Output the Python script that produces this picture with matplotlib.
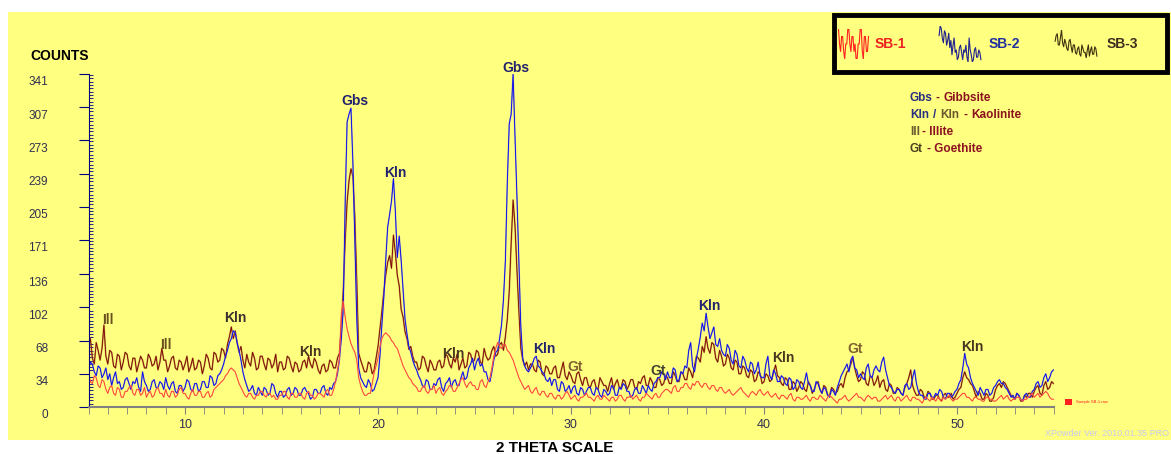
import numpy as np
import matplotlib
matplotlib.use('Agg')
import matplotlib.pyplot as plt
from matplotlib.patches import Rectangle
from matplotlib.ticker import MultipleLocator, AutoMinorLocator
from matplotlib.transforms import ScaledTranslation

plt.rcParams['font.family'] = ['Liberation Sans', 'DejaVu Sans']

# 2-theta grid, 0.1 deg steps, 5 .. 55
two_theta = np.round(np.arange(5.0, 55.001, 0.1), 1)

# SB-1 (red), one row per degree (5..54) + last point at 55
sb1 = [34, 26, 24, 32, 30, 22, 20, 28, 26, 18,
       14, 20, 22, 14, 12, 20, 18, 10, 10, 16,
       16, 20, 22, 14, 12, 18, 18, 12, 14, 20,
       10, 14, 16, 10, 12, 18, 20, 14, 14, 10,
       18, 12, 10, 16, 16, 10, 12, 18, 20, 14,
       14, 10, 8, 14, 18, 12, 12, 16, 16, 10,
       10, 14, 16, 10, 12, 18, 20, 22, 24, 26,
       28, 32, 34, 38, 40, 38, 36, 30, 24, 20,
       16, 12, 10, 14, 14, 10, 8, 12, 12, 16,
       16, 12, 10, 14, 14, 10, 12, 8, 8, 12,
       12, 16, 16, 10, 8, 14, 14, 10, 10, 14,
       14, 10, 8, 14, 16, 12, 12, 8, 10, 14,
       14, 12, 10, 16, 18, 12, 12, 18, 26, 38,
       50, 96, 108, 92, 80, 72, 65, 60, 56, 48,
       30, 22, 16, 12, 12, 14, 14, 24, 35, 42,
       50, 62, 70, 74, 76, 74, 72, 68, 66, 62,
       60, 54, 48, 42, 38, 34, 30, 28, 24, 22,
       20, 16, 16, 20, 22, 16, 14, 18, 18, 22,
       14, 18, 20, 14, 12, 16, 18, 22, 22, 16,
       16, 20, 24, 28, 30, 24, 20, 24, 26, 22,
       22, 18, 18, 26, 28, 22, 20, 26, 30, 40,
       52, 60, 66, 62, 60, 64, 64, 58, 56, 52,
       48, 42, 36, 30, 26, 22, 18, 20, 22, 16,
       14, 18, 20, 14, 12, 16, 16, 12, 10, 14,
       14, 10, 8, 12, 12, 8, 10, 14, 16, 12,
       8, 10, 12, 8, 6, 10, 10, 12, 14, 10,
       10, 8, 6, 10, 12, 8, 8, 12, 10, 8,
       6, 10, 10, 6, 8, 12, 12, 8, 6, 10,
       10, 12, 8, 10, 12, 8, 6, 10, 10, 14,
       12, 10, 8, 12, 14, 10, 10, 14, 16, 18,
       18, 16, 14, 20, 22, 16, 16, 20, 20, 24,
       24, 20, 18, 24, 22, 26, 26, 22, 20, 24,
       24, 20, 18, 22, 22, 18, 16, 20, 20, 16,
       14, 16, 18, 14, 12, 14, 16, 18, 20, 16,
       14, 12, 10, 14, 16, 14, 12, 16, 18, 14,
       12, 14, 16, 12, 10, 12, 14, 10, 8, 12,
       12, 10, 8, 12, 14, 8, 6, 10, 10, 8,
       8, 10, 12, 8, 6, 10, 10, 8, 8, 12,
       10, 8, 6, 10, 12, 10, 8, 6, 4, 8,
       8, 10, 12, 8, 6, 8, 10, 12, 14, 10,
       10, 8, 6, 10, 12, 10, 8, 10, 10, 6,
       6, 8, 10, 12, 8, 10, 12, 8, 6, 10,
       10, 6, 8, 10, 12, 8, 6, 10, 10, 8,
       8, 6, 4, 8, 10, 8, 6, 10, 8, 6,
       10, 8, 6, 10, 8, 10, 12, 8, 6, 8,
       8, 10, 12, 14, 14, 10, 10, 8, 6, 10,
       10, 8, 8, 6, 6, 10, 10, 8, 8, 6,
       6, 8, 10, 12, 8, 10, 12, 8, 6, 8,
       8, 10, 10, 8, 6, 8, 8, 10, 12, 14,
       10, 12, 14, 10, 12, 14, 16, 14, 10, 8,
       8]

# SB-2 (blue)
sb2 = [38, 46, 44, 36, 32, 42, 40, 30, 34, 40,
       28, 34, 22, 30, 36, 24, 26, 18, 20, 28,
       30, 24, 18, 26, 24, 30, 20, 16, 36, 26,
       22, 16, 18, 26, 28, 20, 20, 26, 24, 18,
       30, 22, 18, 24, 26, 16, 14, 22, 22, 16,
       20, 28, 26, 18, 16, 24, 24, 16, 18, 26,
       26, 20, 20, 32, 30, 22, 24, 32, 34, 38,
       44, 52, 58, 66, 70, 78, 76, 66, 58, 48,
       36, 28, 22, 16, 18, 22, 14, 12, 20, 16,
       12, 20, 18, 12, 14, 24, 22, 14, 10, 16,
       16, 10, 12, 18, 20, 12, 14, 20, 18, 12,
       12, 18, 20, 16, 14, 8, 10, 18, 18, 14,
       14, 20, 22, 14, 12, 20, 18, 24, 26, 34,
       48, 70, 100, 210, 292, 300, 306, 250, 170, 90,
       40, 30, 26, 22, 20, 28, 24, 16, 18, 24,
       30, 52, 84, 112, 150, 184, 197, 211, 234, 200,
       153, 175, 150, 120, 90, 75, 62, 56, 48, 42,
       38, 32, 28, 22, 20, 28, 26, 18, 18, 24,
       22, 28, 30, 20, 16, 24, 26, 30, 20, 26,
       28, 22, 22, 30, 36, 28, 30, 40, 44, 50,
       38, 46, 50, 42, 44, 36, 36, 28, 26, 36,
       48, 56, 58, 70, 84, 110, 150, 230, 290, 300,
       341, 276, 215, 150, 82, 50, 42, 38, 36, 40,
       44, 50, 52, 42, 40, 36, 34, 28, 26, 30,
       22, 28, 28, 18, 16, 26, 24, 16, 18, 22,
       14, 20, 22, 14, 12, 20, 18, 12, 16, 20,
       20, 14, 12, 20, 18, 12, 10, 18, 16, 12,
       14, 22, 20, 12, 12, 20, 18, 24, 22, 16,
       16, 10, 12, 18, 20, 14, 14, 22, 18, 14,
       22, 18, 16, 24, 26, 30, 30, 36, 34, 28,
       36, 30, 30, 40, 38, 26, 28, 36, 34, 42,
       40, 58, 66, 42, 36, 50, 60, 72, 86, 78,
       96, 82, 70, 76, 82, 64, 62, 70, 58, 54,
       52, 64, 60, 48, 44, 58, 54, 42, 40, 52,
       48, 40, 36, 46, 44, 34, 38, 46, 32, 30,
       30, 44, 52, 32, 28, 38, 34, 26, 26, 32,
       30, 24, 22, 30, 28, 18, 20, 28, 26, 20,
       18, 26, 35, 24, 22, 16, 16, 26, 24, 18,
       14, 20, 18, 12, 10, 18, 16, 12, 20, 26,
       32, 36, 40, 44, 36, 48, 52, 40, 38, 30,
       34, 30, 28, 40, 44, 32, 30, 38, 42, 38,
       36, 46, 51, 38, 30, 22, 20, 16, 14, 18,
       18, 14, 12, 22, 24, 18, 20, 30, 38, 24,
       16, 12, 12, 8, 8, 14, 14, 10, 10, 14,
       12, 18, 16, 10, 8, 14, 14, 10, 12, 16,
       18, 24, 28, 40, 55, 44, 40, 30, 24, 20,
       16, 12, 20, 16, 12, 18, 18, 12, 14, 20,
       22, 26, 28, 24, 24, 20, 18, 14, 10, 12,
       8, 14, 12, 8, 6, 12, 14, 10, 10, 16,
       18, 24, 26, 20, 22, 30, 34, 26, 30, 36,
       38]

# SB-3 (dark brown)
sb3 = [62, 70, 50, 44, 66, 58, 48, 60, 84, 52,
       44, 58, 56, 42, 40, 54, 52, 38, 46, 56,
       54, 42, 38, 50, 50, 36, 44, 52, 48, 40,
       40, 54, 50, 42, 44, 52, 38, 46, 60, 48,
       48, 36, 42, 50, 52, 40, 38, 48, 46, 38,
       44, 52, 36, 42, 50, 38, 40, 48, 46, 34,
       42, 54, 50, 40, 38, 56, 54, 46, 48, 60,
       58, 50, 64, 72, 82, 70, 78, 66, 56, 62,
       48, 40, 54, 46, 42, 56, 50, 38, 40, 52,
       52, 44, 38, 50, 48, 40, 44, 54, 36, 46,
       46, 38, 40, 52, 50, 42, 36, 46, 44, 36,
       38, 46, 48, 40, 52, 44, 40, 50, 46, 38,
       34, 42, 44, 36, 38, 48, 46, 40, 40, 50,
       55, 84, 120, 170, 210, 232, 244, 236, 195, 130,
       55, 48, 42, 36, 36, 46, 44, 34, 38, 50,
       62, 80, 98, 118, 135, 148, 155, 142, 176, 158,
       135, 124, 100, 92, 77, 70, 59, 62, 52, 46,
       46, 38, 40, 52, 50, 42, 36, 48, 44, 38,
       38, 46, 48, 40, 42, 54, 52, 44, 40, 50,
       46, 54, 38, 44, 50, 40, 42, 56, 54, 46,
       48, 58, 56, 46, 44, 60, 52, 48, 50, 58,
       62, 52, 54, 64, 66, 58, 72, 90, 118, 168,
       212, 185, 140, 98, 60, 48, 42, 46, 38, 44,
       44, 38, 36, 48, 46, 34, 32, 42, 40, 34,
       34, 40, 42, 30, 30, 38, 46, 32, 28, 36,
       32, 26, 24, 34, 36, 28, 22, 30, 30, 22,
       20, 26, 28, 20, 18, 30, 26, 22, 22, 16,
       24, 30, 18, 24, 28, 20, 20, 28, 26, 18,
       22, 28, 28, 20, 18, 26, 24, 30, 32, 22,
       22, 30, 26, 20, 20, 30, 28, 22, 24, 32,
       30, 24, 24, 36, 32, 26, 26, 36, 34, 28,
       28, 40, 36, 30, 42, 52, 50, 46, 62, 56,
       72, 60, 55, 66, 64, 50, 46, 58, 52, 42,
       44, 54, 50, 40, 38, 48, 46, 34, 34, 42,
       40, 32, 30, 38, 36, 26, 28, 36, 34, 24,
       26, 34, 32, 26, 28, 36, 43, 32, 30, 24,
       22, 30, 28, 18, 18, 26, 24, 16, 20, 26,
       24, 18, 16, 26, 22, 14, 18, 24, 26, 18,
       14, 22, 20, 12, 12, 20, 18, 14, 16, 22,
       24, 20, 30, 36, 38, 44, 50, 40, 32, 26,
       28, 36, 34, 24, 22, 32, 30, 22, 26, 32,
       20, 26, 28, 18, 16, 24, 22, 14, 14, 20,
       18, 14, 12, 20, 24, 30, 38, 22, 16, 12,
       12, 18, 16, 10, 10, 16, 14, 8, 8, 12,
       12, 8, 6, 12, 14, 10, 10, 14, 8, 10,
       14, 18, 20, 30, 36, 30, 28, 24, 22, 16,
       10, 16, 14, 8, 8, 14, 12, 6, 6, 10,
       18, 22, 24, 20, 26, 24, 20, 16, 12, 10,
       8, 14, 12, 6, 6, 12, 10, 14, 14, 10,
       16, 20, 22, 14, 12, 22, 26, 18, 20, 26,
       24]

y_ticks = [0, 34, 68, 102, 136, 171, 205, 239, 273, 307, 341]
x_ticks = [10, 20, 30, 40, 50]

# peak labels: text, 2theta, counts, colour
peaks = [('Ill', 6.0, 89, '#6a5020'), ('Ill', 9.0, 64, '#6a5020'),
         ('Kln', 12.6, 91, '#3a3030'), ('Kln', 16.5, 56, '#4a3520'),
         ('Gbs', 18.8, 313, '#22226e'), ('Kln', 20.9, 240, '#22226e'),
         ('Kln', 23.9, 54, '#4a3520'), ('Gbs', 27.15, 347, '#22226e'),
         ('Kln', 28.6, 59, '#22226e'), ('Gt', 30.2, 41, '#806030'),
         ('Gt', 34.5, 37, '#404030'), ('Kln', 37.15, 103, '#22226e'),
         ('Kln', 41.0, 50, '#4a3520'), ('Gt', 44.7, 59, '#806030'),
         ('Kln', 50.8, 61, '#4a3520')]

W, H = 1171, 454
YELLOW = '#ffff80'


def px(x, y):
    return x / W, 1 - y / H


fig = plt.figure(figsize=(W / 100, H / 100), dpi=100)
fig.patch.set_facecolor('white')
fig.patches.append(Rectangle(px(8, 440), (W - 8) / W, 428 / H, transform=fig.transFigure,
                             facecolor=YELLOW, edgecolor='none', zorder=-5))

ax = fig.add_axes([88.5 / W, (H - 407) / H, 965 / W, 333 / H])
ax.patch.set_alpha(0)

ax.plot(two_theta, sb3, color='#b07838', lw=1.2, alpha=0.7)
ax.plot(two_theta, sb3, color='#780000', lw=0.6)
ax.plot(two_theta, sb2, color='#8080d0', lw=1.1, alpha=0.7)
ax.plot(two_theta, sb2, color='#0000ee', lw=0.6)
ax.plot(two_theta, sb1, color='#ff9a70', lw=1.0, alpha=0.7)
ax.plot(two_theta, sb1, color='#ff2a2a', lw=0.5)

ax.set_xlim(5, 55)
ax.set_ylim(0, 341)
for s in ['top', 'right']:
    ax.spines[s].set_visible(False)
ax.spines['left'].set_color('#000080')
ax.spines['bottom'].set_color('#808080')
ax.spines['bottom'].set_linewidth(1.5)

ax.set_xticks(x_ticks)
ax.xaxis.set_minor_locator(MultipleLocator(1))
ax.tick_params(axis='x', which='both', colors='#808080', direction='out', length=5,
               labelcolor='#303050', labelsize=9, pad=4)
ax.set_yticks(y_ticks)
ax.yaxis.set_minor_locator(AutoMinorLocator(10))
ax.tick_params(axis='y', which='major', colors='#000080', direction='out', length=7,
               labelcolor='#303050', labelsize=8.5, pad=22)
ax.tick_params(axis='y', which='minor', colors='#000080', direction='in', length=3)
off = ScaledTranslation(0, -5 / 72, fig.dpi_scale_trans)
for lab in ax.get_yticklabels():
    lab.set_transform(lab.get_transform() + off)

for t, x, y, c in peaks:
    ax.text(x, y, t, color=c, fontsize=10, fontweight='bold', ha='center', va='center')

fig.text(*px(60, 56), 'COUNTS', fontsize=10, fontweight='bold', ha='center', va='center')
fig.text(*px(555, 448), '2 THETA SCALE', fontsize=11, fontweight='bold', ha='center', va='center')
fig.text(*px(1169, 434), 'XPowder Ver. 2010.01.35 PRO', fontsize=6.5, color='#c8c8ec',
         ha='right', va='center')
fig.patches.append(Rectangle(px(1065, 405), 7 / W, 6 / H, transform=fig.transFigure,
                             facecolor='#ff2020', edgecolor='none'))
fig.text(*px(1076, 402), 'Sample SB-1.raw', fontsize=3, color='#ff2020', ha='left', va='center')

# mineral key
NAVY, CRIMSON = '#2a3080', '#8b1020'
key = [[('Gbs', 910, NAVY), ('-', 936, CRIMSON), ('Gibbsite', 944, CRIMSON)],
       [('Kln', 910, NAVY), ('/', 933, NAVY), ('Kln', 940, '#6a5530'),
        ('-', 963, CRIMSON), ('Kaolinite', 971, CRIMSON)],
       [('Ill', 910, '#6a5a30'), ('- Illite', 922, CRIMSON)],
       [('Gt', 910, '#4a4020'), ('- Goethite', 927, CRIMSON)]]
for row, yy in zip(key, [98, 115, 132, 149]):
    for t, xx, c in row:
        fig.text(*px(xx, yy), t, fontsize=8.5, fontweight='bold', color=c, ha='left', va='center')

# legend box with squiggle icons cut from each pattern
fig.patches.append(Rectangle(px(834, 72), 333 / W, 57 / H, transform=fig.transFigure,
                             facecolor='none', edgecolor='black', linewidth=3.5, zorder=5))
icons = [(sb1[80:110], '#ff2020', 837, 33, 30, 'SB-1', 875, '#ee2020'),
         (sb2[0:40], '#202090', 937, 46, 36, 'SB-2', 989, '#2030a0'),
         (sb3[240:280], '#403010', 1053, 46, 28, 'SB-3', 1107, '#403020')]
for seg, c, x0, w, h, name, tx, tc in icons:
    ia = fig.add_axes([x0 / W, 1 - (44 + h / 2) / H, w / W, h / H])
    ia.plot(seg, color=c, lw=0.8)
    ia.set_ylim(min(seg), max(seg))
    ia.axis('off')
    fig.text(*px(tx, 44), name, fontsize=10, fontweight='bold', color=tc, ha='left', va='center')

fig.savefig('out.png', dpi=100)
